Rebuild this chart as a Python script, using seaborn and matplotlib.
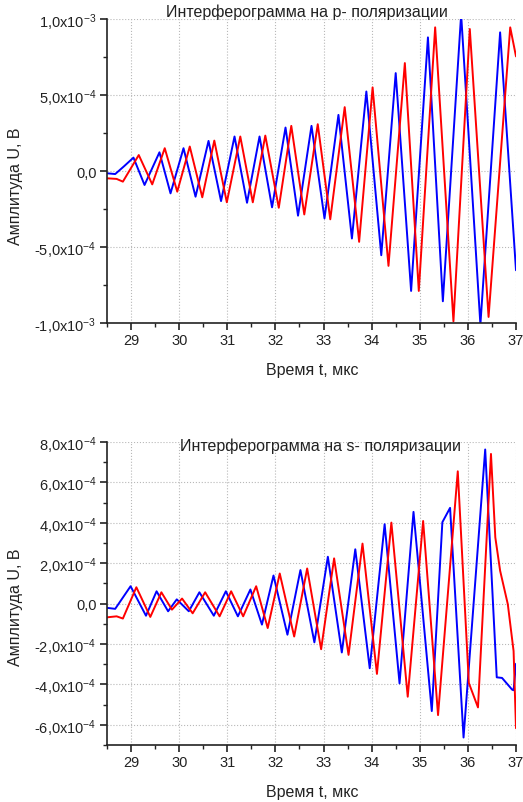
import numpy as np
import pandas as pd
import matplotlib
matplotlib.use('Agg')
import matplotlib.pyplot as plt
import seaborn as sns
from matplotlib.ticker import MultipleLocator, FixedLocator, FixedFormatter


############### data (extrema of each trace)
# p-polarisation, blue trace
p_blue_t = [28.5, 28.67, 28.85, 29.05, 29.28, 29.59, 29.82, 30.09, 30.34, 30.61, 30.87,
            31.15, 31.41, 31.67, 31.93, 32.21, 32.47, 32.75, 33.02, 33.31, 33.59, 33.89,
            34.20, 34.50, 34.82, 35.17, 35.48, 35.86, 36.26, 36.67, 37.0]
p_blue_v = [-0.015, -0.02, 0.03, 0.088, -0.092, 0.123, -0.147, 0.150, -0.169, 0.198, -0.198,
            0.227, -0.209, 0.227, -0.239, 0.286, -0.294, 0.297, -0.312, 0.369, -0.444, 0.523,
            -0.554, 0.644, -0.789, 0.879, -0.857, 1.03, -1.01, 0.912, -0.653]
# p-polarisation, red trace
p_red_t = [28.5, 28.7, 28.83, 29.16, 29.44, 29.70, 29.96, 30.22, 30.48, 30.73, 30.99,
           31.27, 31.53, 31.79, 32.07, 32.33, 32.60, 32.88, 33.14, 33.44, 33.74, 34.02,
           34.35, 34.69, 34.98, 35.32, 35.70, 36.04, 36.43, 36.88, 37.0]
p_red_v = [-0.048, -0.052, -0.07, 0.105, -0.088, 0.150, -0.136, 0.161, -0.173, 0.200, -0.206,
           0.227, -0.206, 0.233, -0.242, 0.297, -0.286, 0.308, -0.318, 0.420, -0.466, 0.550,
           -0.624, 0.710, -0.789, 0.945, -0.989, 0.934, -0.960, 0.945, 0.754]

# s-polarisation, blue trace
s_blue_t = [28.5, 28.67, 28.99, 29.31, 29.53, 29.77, 29.95, 30.20, 30.42, 30.72, 30.97,
            31.22, 31.48, 31.72, 31.96, 32.25, 32.52, 32.81, 33.09, 33.38, 33.66, 33.96,
            34.27, 34.58, 34.87, 35.25, 35.47, 35.63, 35.91, 36.36, 36.60, 36.71, 36.92,
            36.95, 37.0]
s_blue_v = [-0.21, -0.26, 0.86, -0.60, 0.61, -0.38, 0.21, -0.38, 0.56, -0.60, 0.61,
            -0.63, 0.70, -1.04, 1.39, -1.54, 1.66, -1.92, 2.32, -2.42, 2.69, -3.20,
            3.93, -3.95, 4.54, -5.32, 4.03, 4.74, -6.63, 7.63, -3.65, -3.68, -4.26,
            -4.29, -2.98]
# s-polarisation, red trace
s_red_t = [28.5, 28.7, 28.83, 29.11, 29.40, 29.63, 29.85, 30.06, 30.28, 30.54, 30.84,
           31.08, 31.33, 31.60, 31.84, 32.09, 32.39, 32.66, 32.95, 33.22, 33.52, 33.81,
           34.11, 34.41, 34.75, 35.07, 35.38, 35.79, 36.02, 36.21, 36.48, 36.57, 36.67,
           36.83, 36.95, 37.0]
s_red_v = [-0.68, -0.63, -0.74, 0.81, -0.66, 0.56, -0.30, 0.25, -0.48, 0.56, -0.63,
           0.61, -0.63, 0.86, -1.21, 1.49, -1.63, 1.74, -2.26, 2.24, -2.54, 2.97,
           -3.48, 4.01, -4.61, 4.09, -5.52, 6.55, -3.93, -5.14, 7.41, 3.28, 1.63,
           -0.03, -2.35, -6.17]

p_ticks = [-1.0e-3, -5.0e-4, 0.0, 5.0e-4, 1.0e-3]
p_labels = [r'-1,0x10$^{-3}$', r'-5,0x10$^{-4}$', '0,0', r'5,0x10$^{-4}$', r'1,0x10$^{-3}$']
s_ticks = [-6e-4, -4e-4, -2e-4, 0.0, 2e-4, 4e-4, 6e-4, 8e-4]
s_labels = [r'-6,0x10$^{-4}$', r'-4,0x10$^{-4}$', r'-2,0x10$^{-4}$', '0,0',
            r'2,0x10$^{-4}$', r'4,0x10$^{-4}$', r'6,0x10$^{-4}$', r'8,0x10$^{-4}$']
x_ticks = [29, 30, 31, 32, 33, 34, 35, 36, 37]

titles = ['Интерферограмма на p- поляризации', 'Интерферограмма на s- поляризации']
xlabel = 'Время t, мкс'
ylabel = 'Амплитуда U, В'


def make_frame(bt, bv, rt, rv, scale):
    blue = pd.DataFrame({'t': bt, 'U': np.array(bv) * scale, 'trace': 'blue'})
    red = pd.DataFrame({'t': rt, 'U': np.array(rv) * scale, 'trace': 'red'})
    return pd.concat([blue, red], ignore_index=True)


df_p = make_frame(p_blue_t, p_blue_v, p_red_t, p_red_v, 1e-3)
df_s = make_frame(s_blue_t, s_blue_v, s_red_t, s_red_v, 1e-4)

sns.set_style('ticks')
plt.rcParams['font.family'] = ['Liberation Sans', 'DejaVu Sans']
plt.rcParams['mathtext.fontset'] = 'custom'
plt.rcParams['mathtext.rm'] = 'Liberation Sans'
plt.rcParams['mathtext.it'] = 'Liberation Sans'

fig = plt.figure(figsize=(5.23, 8.03), dpi=100)
ax1 = fig.add_axes([0.2046, 0.5965, 0.782, 0.3786])
ax2 = fig.add_axes([0.2046, 0.0710, 0.782, 0.3773])

panels = [
    (ax1, df_p, p_ticks, p_labels, (-1e-3, 1e-3), 2.5e-4, titles[0], (0.49, 1.0), 'bottom', 0.454),
    (ax2, df_s, s_ticks, s_labels, (-7e-4, 8e-4), 1e-4, titles[1], (0.523, 0.99), 'center', 0.459),
]

for ax, df, yt, yl, ylim, yminor, title, tpos, tva, ylab_y in panels:
    sns.lineplot(data=df, x='t', y='U', hue='trace', palette={'blue': '#0000ff', 'red': '#ff0000'},
                 estimator=None, sort=False, linewidth=1.4, legend=False, ax=ax)
    for line in ax.get_lines():
        line.set_solid_joinstyle('round')
    ax.set_xlim(28.5, 37)
    ax.set_ylim(*ylim)
    ax.xaxis.set_major_locator(FixedLocator(x_ticks))
    ax.xaxis.set_minor_locator(MultipleLocator(0.5))
    ax.yaxis.set_major_locator(FixedLocator(yt))
    ax.yaxis.set_major_formatter(FixedFormatter(yl))
    ax.yaxis.set_minor_locator(MultipleLocator(yminor))
    ax.tick_params(axis='both', which='major', length=5, width=1.2, labelsize=10.5,
                   color='#222222', labelcolor='#222222', pad=2.5)
    ax.tick_params(axis='both', which='minor', length=3, width=1.0, color='#222222')
    ax.grid(True, which='major', linestyle=':', linewidth=0.8, color='#b8b8b8')
    sns.despine(ax=ax)
    for s in ['left', 'bottom']:
        ax.spines[s].set_linewidth(1.2)
        ax.spines[s].set_color('#222222')
    ax.set_xlabel(xlabel, fontsize=11.5, color='#222222')
    ax.set_ylabel(ylabel, fontsize=11.5, color='#222222')
    ax.xaxis.set_label_coords(0.501, -0.128)
    ax.yaxis.set_label_coords(-0.205, ylab_y)
    ax.text(tpos[0], tpos[1], title, transform=ax.transAxes, ha='center', va=tva,
            fontsize=11.5, color='#222222')

fig.savefig('out.png', dpi=100)
